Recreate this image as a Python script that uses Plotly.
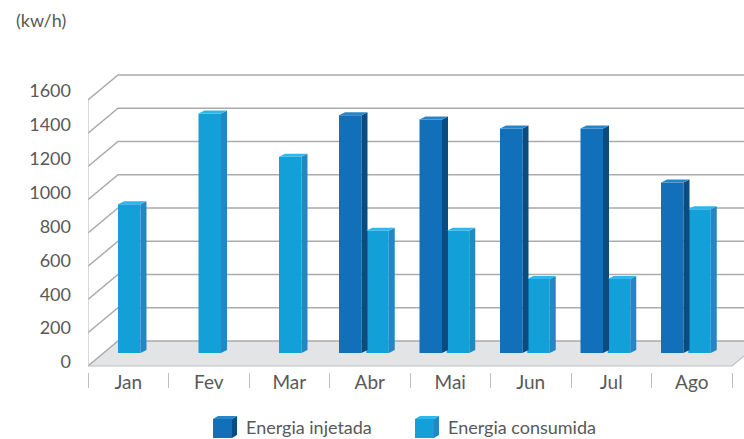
import plotly.graph_objects as go

# ---- data ----
months = ["Jan", "Fev", "Mar", "Abr", "Mai", "Jun", "Jul", "Ago"]
injetada = [None, None, None, 1430, 1405, 1350, 1350, 1025]
consumida = [895, 1440, 1180, 735, 735, 445, 445, 865]
y_ticks = [0, 200, 400, 600, 800, 1000, 1200, 1400, 1600]
unit_label = "(kw/h)"
series_names = ["Energia injetada", "Energia consumida"]

# ---- geometry (pixel-derived scales) ----
W, H = 744, 439
ML, MR, MT, MB = 88, 0, 60, 67
PX_X = 80.5        # px per category
PX_Y = 0.16625     # px per value unit
plot_w = W - ML - MR
plot_h = H - MT - MB
x_range = [-0.5, -0.5 + plot_w / PX_X]
y_range = [-(6 / PX_Y), -(6 / PX_Y) + plot_h / PX_Y]

wall_dx = 30 / PX_X
wall_dy = 25 / PX_Y
bar_base = 13 / PX_Y
bar_w = 22.5 / PX_X
bar_ddx = 6 / PX_X
bar_ddy = 3 / PX_Y
off_inj = -19.5 / PX_X
off_con = 7.75 / PX_X
off_solo = 1.0 / PX_X

c_inj = dict(front="#1170B9", side="#0B4C80", top="#2A85C8")
c_con = dict(front="#139FD8", side="#2387C3", top="#2CB8EC")
grid_col = "#ABABAB"
text_col = "#595959"
FONT = "Lato, 'Open Sans', sans-serif"

n = len(months)
x_left, x_right = -0.5, n - 0.5

fig = go.Figure()

def add_series(name, vals, offsets, col):
    xs, ys = [], []
    for i, v in enumerate(vals):
        if v is None:
            continue
        xs.append(i + offsets[i])
        ys.append(v)
    fig.add_trace(go.Bar(
        x=xs, y=ys, base=[bar_base] * len(xs), width=bar_w, name=name,
        marker=dict(color=col["front"], line=dict(width=0)),
        hoverinfo="skip", showlegend=False,
    ))
    sx, sy, tx, ty = [], [], [], []
    for xc, v in zip(xs, ys):
        x0, x1 = xc - bar_w / 2, xc + bar_w / 2
        top = bar_base + v
        sx += [x1, x1, x1 + bar_ddx, x1 + bar_ddx, x1, None]
        sy += [bar_base, top, top + bar_ddy, bar_base + bar_ddy, bar_base, None]
        tx += [x0, x1, x1 + bar_ddx, x0 + bar_ddx, x0, None]
        ty += [top, top, top + bar_ddy, top + bar_ddy, top, None]
    for px, py, c in ((sx, sy, col["side"]), (tx, ty, col["top"])):
        fig.add_trace(go.Scatter(
            x=px, y=py, mode="lines", fill="toself", fillcolor=c,
            line=dict(width=0, color=c), showlegend=False, hoverinfo="skip",
        ))

inj_off = [off_inj for _ in months]
con_off = [off_solo if injetada[i] is None else off_con for i in range(n)]
add_series(series_names[0], injetada, inj_off, c_inj)
add_series(series_names[1], consumida, con_off, c_con)

# ---- walls, floor, gridlines as shapes below traces ----
shapes = []
floor = (f"M {x_left},0 L {x_right},0 L {x_right + wall_dx},{wall_dy} "
         f"L {x_left + wall_dx},{wall_dy} Z")
shapes.append(dict(type="path", path=floor, xref="x", yref="y", layer="below",
                   fillcolor="#E3E4E6", line=dict(width=0)))
for v in y_ticks:
    p = (f"M {x_left},{v} L {x_left + wall_dx},{v + wall_dy} "
         f"L {x_right + wall_dx + 1},{v + wall_dy}")
    shapes.append(dict(type="path", path=p, xref="x", yref="y", layer="below",
                       line=dict(color=grid_col, width=1.5)))
shapes.append(dict(type="path",
                   path=f"M {x_left},0 L {x_right},0 L {x_right + wall_dx},{wall_dy}",
                   xref="x", yref="y", layer="below",
                   line=dict(color="#BFBFBF", width=1.2)))
shapes.append(dict(type="line", x0=x_left, x1=x_left, y0=0, y1=y_ticks[-1],
                   xref="x", yref="y", layer="below",
                   line=dict(color="#BFBFBF", width=1.2)))

# ---- legend (3D cube icons + text) in paper coords ----
def px2paper_x(px):
    return (px - ML) / plot_w

def px2paper_y(py):
    return (H - MB - py) / plot_h

legend_items = [(213, series_names[0], c_inj), (415, series_names[1], c_con)]
annotations = []
for lx, name, col in legend_items:
    ly0, ly1 = 419, 438   # icon front face top/bottom (px)
    fw = 19
    d = 5
    fx0, fx1 = lx, lx + fw
    def P(a, b):
        return f"{px2paper_x(a)},{px2paper_y(b)}"
    shapes.append(dict(type="path", xref="paper", yref="paper",
                       path=f"M {P(fx0, ly0)} L {P(fx1, ly0)} L {P(fx1, ly1)} L {P(fx0, ly1)} Z",
                       fillcolor=col["front"], line=dict(width=0)))
    shapes.append(dict(type="path", xref="paper", yref="paper",
                       path=f"M {P(fx1, ly0)} L {P(fx1 + d, ly0 - 3)} L {P(fx1 + d, ly1 - 3)} L {P(fx1, ly1)} Z",
                       fillcolor=col["side"], line=dict(width=0)))
    shapes.append(dict(type="path", xref="paper", yref="paper",
                       path=f"M {P(fx0, ly0)} L {P(fx0 + d, ly0 - 3)} L {P(fx1 + d, ly0 - 3)} L {P(fx1, ly0)} Z",
                       fillcolor=col["top"], line=dict(width=0)))
    annotations.append(dict(text=name, xref="paper", yref="paper",
                            x=px2paper_x(lx + 31), y=px2paper_y(427),
                            xanchor="left", yanchor="middle", showarrow=False,
                            font=dict(size=18, color=text_col)))

annotations.append(dict(text=unit_label, xref="paper", yref="paper",
                        x=px2paper_x(14), y=px2paper_y(20),
                        xanchor="left", yanchor="middle", showarrow=False,
                        font=dict(size=18, color=text_col)))

label_pos = [v * 1.019 + 24 for v in y_ticks]

fig.update_layout(
    width=W, height=H,
    margin=dict(l=ML, r=MR, t=MT, b=MB, autoexpand=False),
    paper_bgcolor="white", plot_bgcolor="white",
    barmode="overlay",
    showlegend=False,
    font=dict(family=FONT, color=text_col, size=18),
    shapes=shapes,
    annotations=annotations,
    xaxis=dict(range=x_range, tickvals=list(range(n)), ticktext=months,
               showgrid=False, zeroline=False, showline=False, ticks="",
               ticklen=0, automargin=False, ticklabelstandoff=-3,
               tickfont=dict(size=19, color=text_col)),
    xaxis2=dict(range=x_range, overlaying="x", anchor="y", side="bottom",
                tickvals=[i - 0.5 for i in range(n + 1)], showticklabels=False,
                ticks="outside", ticklen=15, tickwidth=1, tickcolor="#BFBFBF",
                showgrid=False, zeroline=False, showline=False, automargin=False),
    yaxis=dict(range=y_range, tickvals=label_pos, ticktext=[str(v) for v in y_ticks],
               showgrid=False, zeroline=False, showline=False, ticks="",
               automargin=False, ticklabelstandoff=16,
               tickfont=dict(size=18, color=text_col)),
)
fig.add_trace(go.Scatter(x=[x_range[0]], y=[0], xaxis="x2", yaxis="y",
                         mode="markers", marker=dict(opacity=0),
                         showlegend=False, hoverinfo="skip"))

fig.write_html("out.html", config={"displayModeBar": False},
               post_script="document.body.style.margin='0';document.body.style.overflow='hidden';")
